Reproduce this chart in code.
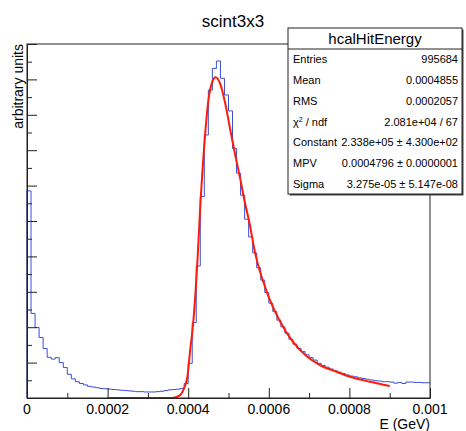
<!DOCTYPE html>
<html>
<head>
<meta charset="utf-8">
<script src="https://cdn.jsdelivr.net/npm/d3@7"></script>
<style>
	body { margin: 0; background: #fff; }
	text { font-family: "Liberation Sans", Arial, sans-serif; }
</style>
</head>
<body>
<div id="chart"></div>
<script>
// histogram: 100 bins between 0 and 0.001 GeV, heights in arbitrary units
const xMin = 0;
const xMax = 0.001;
const binValues = [
	5.85, 2.39, 1.99, 1.71, 1.40, 1.15, 1.10, 1.14, 1.00, 0.86,
	0.67, 0.54, 0.46, 0.41, 0.37, 0.33, 0.31, 0.29, 0.27, 0.26,
	0.25, 0.24, 0.23, 0.22, 0.21, 0.20, 0.19, 0.18, 0.18, 0.17,
	0.17, 0.17, 0.18, 0.19, 0.21, 0.23, 0.24, 0.25, 0.27, 0.41,
	0.98, 2.13, 3.73, 5.69, 7.43, 8.70, 9.31, 9.52, 9.03, 8.56,
	8.11, 7.05, 6.35, 5.73, 5.05, 4.55, 4.10, 3.68, 3.33, 2.98,
	2.68, 2.44, 2.20, 2.01, 1.83, 1.66, 1.52, 1.40, 1.31, 1.22,
	1.14, 1.07, 0.98, 0.92, 0.87, 0.82, 0.77, 0.73, 0.69, 0.65,
	0.62, 0.60, 0.57, 0.55, 0.53, 0.51, 0.49, 0.48, 0.46, 0.46,
	0.45, 0.42, 0.44, 0.41, 0.45, 0.45, 0.44, 0.44, 0.43, 0.43,
];

// landau fit curve
const fitX = [
	0.0002, 0.00036, 0.00038, 0.000388, 0.000398, 0.000404, 0.000413, 0.000419,
	0.000424, 0.000428, 0.00044, 0.00045, 0.00046, 0.000468, 0.000479, 0.000491,
	0.000504, 0.000516, 0.000529, 0.000541, 0.000551, 0.000566, 0.000595, 0.000628,
	0.000661, 0.000694, 0.000727, 0.000768, 0.000801, 0.000851, 0.0009,
];
const fitY = [
	0, 0, 0.08, 0.23, 0.6, 1.26, 2.2, 3.14,
	4.09, 5.0, 7.15, 8.4, 8.94, 9.06, 8.89, 8.37,
	7.6, 6.9, 6.2, 5.5, 5.0, 4.1, 3.0, 2.16,
	1.57, 1.18, 0.93, 0.74, 0.6, 0.46, 0.34,
];

const xTickValues = [0, 0.0002, 0.0004, 0.0006, 0.0008, 0.001];
const xTickLabels = ["0", "0.0002", "0.0004", "0.0006", "0.0008", "0.001"];

const statNames = ["Entries", "Mean", "RMS", "chi2", "Constant", "MPV", "Sigma"];
const statValues = [
	"995684",
	"0.0004855",
	"0.0002057",
	"2.081e+04 / 67",
	"2.338e+05 \u00b1 4.300e+02",
	"0.0004796 \u00b1 0.0000001",
	"3.275e-05 \u00b1 5.147e-08",
];

const width = 466;
const height = 431;
const margin = { top: 44, right: 36, bottom: 33, left: 27 };

const svg = d3
	.select("#chart")
	.append("svg")
	.attr("width", width)
	.attr("height", height);

const x = d3
	.scaleLinear()
	.domain([xMin, xMax])
	.range([margin.left, width - margin.right]);

const y = d3
	.scaleLinear()
	.domain([0, 10])
	.range([height - margin.bottom, margin.top]);

const binWidth = (xMax - xMin) / binValues.length;

// histogram outline
const histPoints = [[xMin, 0]];
binValues.forEach((v, i) => histPoints.push([xMin + i * binWidth, v]));
histPoints.push([xMax, binValues[binValues.length - 1]]);

svg
	.append("path")
	.datum(histPoints)
	.attr("fill", "none")
	.attr("stroke", "#3a4ed8")
	.attr("stroke-width", 1)
	.attr(
		"d",
		d3
			.line()
			.x((d) => x(d[0]))
			.y((d) => y(d[1]))
			.curve(d3.curveStepAfter)
	);

// fit
svg
	.append("path")
	.datum(fitX.map((v, i) => [v, fitY[i]]))
	.attr("fill", "none")
	.attr("stroke", "#ff1a0a")
	.attr("stroke-width", 2)
	.attr(
		"d",
		d3
			.line()
			.x((d) => x(d[0]))
			.y((d) => y(d[1]))
			.curve(d3.curveMonotoneX)
	);

// frame
svg
	.append("rect")
	.attr("x", x(xMin))
	.attr("y", y(10))
	.attr("width", x(xMax) - x(xMin))
	.attr("height", y(0) - y(10))
	.attr("fill", "none")
	.attr("stroke", "#222")
	.attr("stroke-width", 1);

// x axis ticks (drawn inside the frame, like ROOT)
const xAxis = d3
	.axisBottom(x)
	.tickValues(d3.range(0, 11).map((i) => i * 0.0001))
	.tickSizeInner(0)
	.tickSizeOuter(0)
	.tickFormat("");

const xAxisG = svg
	.append("g")
	.attr("transform", `translate(0,${y(0)})`)
	.call(xAxis);
xAxisG.select(".domain").attr("stroke", "#222");
xAxisG
	.selectAll(".tick line")
	.attr("stroke", "#222")
	.attr("y2", (d, i) => (i % 2 === 0 ? -10 : -5));

svg
	.append("g")
	.selectAll("text")
	.data(xTickValues)
	.join("text")
	.attr("x", (d) => x(d))
	.attr("y", y(0) + 16)
	.attr("text-anchor", "middle")
	.style("font-size", "14px")
	.text((d, i) => xTickLabels[i]);

// y axis ticks, no labels
const yAxis = d3
	.axisLeft(y)
	.tickValues(d3.range(0, 21).map((i) => i * 0.5))
	.tickSizeInner(0)
	.tickSizeOuter(0)
	.tickFormat("");

const yAxisG = svg
	.append("g")
	.attr("transform", `translate(${x(xMin)},0)`)
	.call(yAxis);
yAxisG.select(".domain").attr("stroke", "#222");
yAxisG
	.selectAll(".tick line")
	.attr("stroke", "#222")
	.attr("x2", (d, i) => (i % 2 === 0 ? 10 : 5));

// axis titles
svg
	.append("text")
	.attr("x", x(xMax))
	.attr("y", height - 2)
	.attr("text-anchor", "end")
	.style("font-size", "14px")
	.text("E (GeV)");

svg
	.append("text")
	.attr("transform", `translate(23,${y(10)}) rotate(-90)`)
	.attr("text-anchor", "end")
	.style("font-size", "14px")
	.text("arbitrary units");

// title
svg
	.append("text")
	.attr("x", 233)
	.attr("y", 27)
	.attr("text-anchor", "middle")
	.style("font-size", "17px")
	.text("scint3x3");

// stats box
const box = { x: 288, y: 28, w: 174, h: 166, head: 21 };
const stats = svg.append("g");

stats
	.append("rect")
	.attr("x", box.x + 1.5)
	.attr("y", box.y + 1.5)
	.attr("width", box.w)
	.attr("height", box.h)
	.attr("fill", "#444");

stats
	.append("rect")
	.attr("x", box.x)
	.attr("y", box.y)
	.attr("width", box.w)
	.attr("height", box.h)
	.attr("fill", "#fff")
	.attr("stroke", "#222");

stats
	.append("line")
	.attr("x1", box.x)
	.attr("x2", box.x + box.w)
	.attr("y1", box.y + box.head)
	.attr("y2", box.y + box.head)
	.attr("stroke", "#222");

stats
	.append("text")
	.attr("x", box.x + box.w / 2)
	.attr("y", box.y + 16)
	.attr("text-anchor", "middle")
	.style("font-size", "15px")
	.text("hcalHitEnergy");

const rowH = (box.h - box.head) / statNames.length;

statNames.forEach((name, i) => {
	const ty = box.y + box.head + rowH * (i + 0.5) + 4;
	const t = stats
		.append("text")
		.attr("x", box.x + 5)
		.attr("y", ty)
		.style("font-size", "11px");
	if (name === "chi2") {
		t.append("tspan").text("\u03c7");
		t.append("tspan").attr("dy", -4).style("font-size", "7px").text("2");
		t.append("tspan").attr("dy", 4).text(" / ndf");
	} else {
		t.text(name);
	}
	stats
		.append("text")
		.attr("x", box.x + box.w - 4)
		.attr("y", ty)
		.attr("text-anchor", "end")
		.style("font-size", "11px")
		.text(statValues[i]);
});
</script>
</body>
</html>
